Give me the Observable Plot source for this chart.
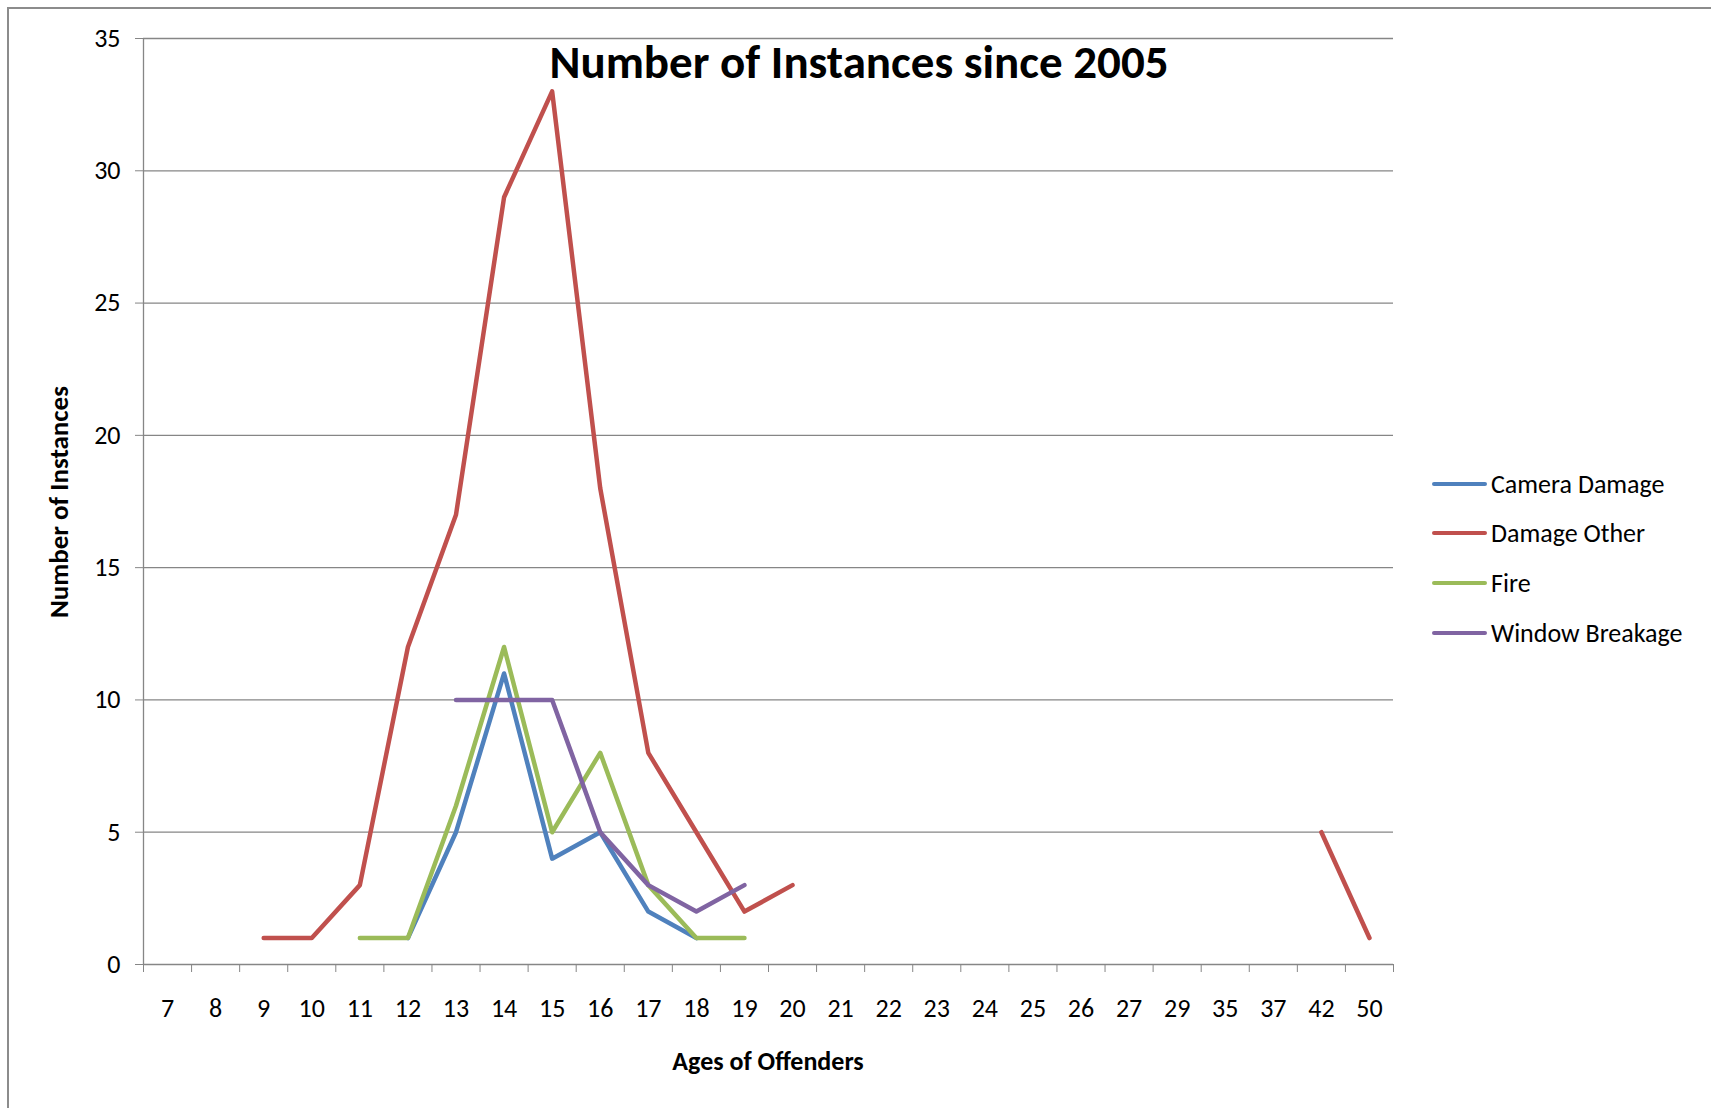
<!DOCTYPE html>
<html><head><meta charset="utf-8">
<script src="https://cdn.jsdelivr.net/npm/d3@7"></script>
<script src="https://cdn.jsdelivr.net/npm/@observablehq/plot@0.6"></script>
<style>
body{margin:0;background:#fff;}
#wrap{position:relative;width:1711px;height:1108px;overflow:hidden;font-family:Carlito,Lato,sans-serif;color:#000;}
#border{position:absolute;left:7px;top:7px;width:1800px;height:1200px;border-left:2px solid #8c8c8c;border-top:2px solid #8c8c8c;box-sizing:border-box;}
#chart{position:absolute;left:0;top:0;}
.t{position:absolute;white-space:nowrap;line-height:1;}
#title{font-size:47px;font-weight:bold;left:859px;top:62px;transform:translate(-50%,-50%);}
#xtitle{font-size:26px;font-weight:bold;left:768px;top:1061px;transform:translate(-50%,-50%);}
#ytitle{font-size:27px;font-weight:bold;left:58px;top:502px;transform:translate(-50%,-50%) rotate(-90deg);}
.leg{position:absolute;left:1432px;height:30px;display:flex;align-items:center;font-size:26px;white-space:nowrap;}
.leg span.sw{display:inline-block;width:55px;height:4px;border-radius:2px;margin-right:4px;}
</style></head>
<body>
<div id="wrap">
  <div id="border"></div>
  <div id="chart"></div>
  <div class="t" id="title">Number of Instances since 2005</div>
  <div class="t" id="xtitle">Ages of Offenders</div>
  <div class="t" id="ytitle">Number of Instances</div>
  <div id="legend"></div>
</div>
<script>
const ages = ["7","8","9","10","11","12","13","14","15","16","17","18","19","20","21","22","23","24","25","26","27","29","35","37","42","50"];
const seriesNames = ["Camera Damage","Damage Other","Fire","Window Breakage"];
const seriesColors = ["#4F81BD","#C0504D","#9BBB59","#8064A2"];
const cameraDamage   = [null,null,null,null,null,1,5,11,4,5,2,1,null,null,null,null,null,null,null,null,null,null,null,null,null,null];
const damageOther    = [null,null,1,1,3,12,17,29,33,18,8,5,2,3,null,null,null,null,null,null,null,null,null,null,5,1];
const fire           = [null,null,null,null,1,1,6,12,5,8,3,1,1,null,null,null,null,null,null,null,null,null,null,null,null,null];
const windowBreakage = [null,null,null,null,null,null,10,10,10,5,3,2,3,null,null,null,null,null,null,null,null,null,null,null,null,null];
const yTicks = [0,5,10,15,20,25,30,35];

const seriesValues = [cameraDamage, damageOther, fire, windowBreakage];
const rows = seriesValues.flatMap((vals, s) => ages.map((a, i) => ({series: seriesNames[s], i, age: a, value: vals[i]})));
const idx = ages.map((a, i) => i);
const bounds = d3.range(ages.length + 1).map(i => i - 0.5);
const gray = "#868686";

const chart = Plot.plot({
  width: 1711, height: 1108,
  marginLeft: 143, marginRight: 318, marginTop: 38, marginBottom: 144,
  style: {fontFamily: "Carlito, Lato, sans-serif", color: "#000", background: "transparent", overflow: "visible"},
  x: {type: "linear", domain: [-0.5, ages.length - 0.5]},
  y: {domain: [0, 35]},
  color: {domain: seriesNames, range: seriesColors},
  marks: [
    Plot.gridY(yTicks, {stroke: gray, strokeOpacity: 1, strokeWidth: 1.3}),
    Plot.ruleX([-0.5], {stroke: gray, strokeWidth: 1.3}),
    Plot.axisY({ticks: yTicks, tickSize: 8, tickPadding: 15, fontSize: 26, stroke: gray, strokeOpacity: 1, label: null}),
    Plot.axisX({ticks: idx, tickFormat: i => ages[i], tickSize: 0, tickPadding: 34, fontSize: 26, label: null}),
    Plot.axisX({ticks: bounds, tickFormat: () => "", tickSize: 8, stroke: gray, strokeOpacity: 1, label: null}),
    Plot.line(rows, {x: "i", y: "value", z: "series", stroke: "series", strokeWidth: 4.5, strokeLinejoin: "round", strokeLinecap: "round"})
  ]
});
document.getElementById("chart").appendChild(chart);

const legend = document.getElementById("legend");
seriesNames.forEach((n, k) => {
  const d = document.createElement("div");
  d.className = "leg";
  d.style.top = (483.5 + k * 49.8 - 15) + "px";
  d.innerHTML = `<span class="sw" style="background:${seriesColors[k]}"></span><span>${n}</span>`;
  legend.appendChild(d);
});
</script>
</body></html>
